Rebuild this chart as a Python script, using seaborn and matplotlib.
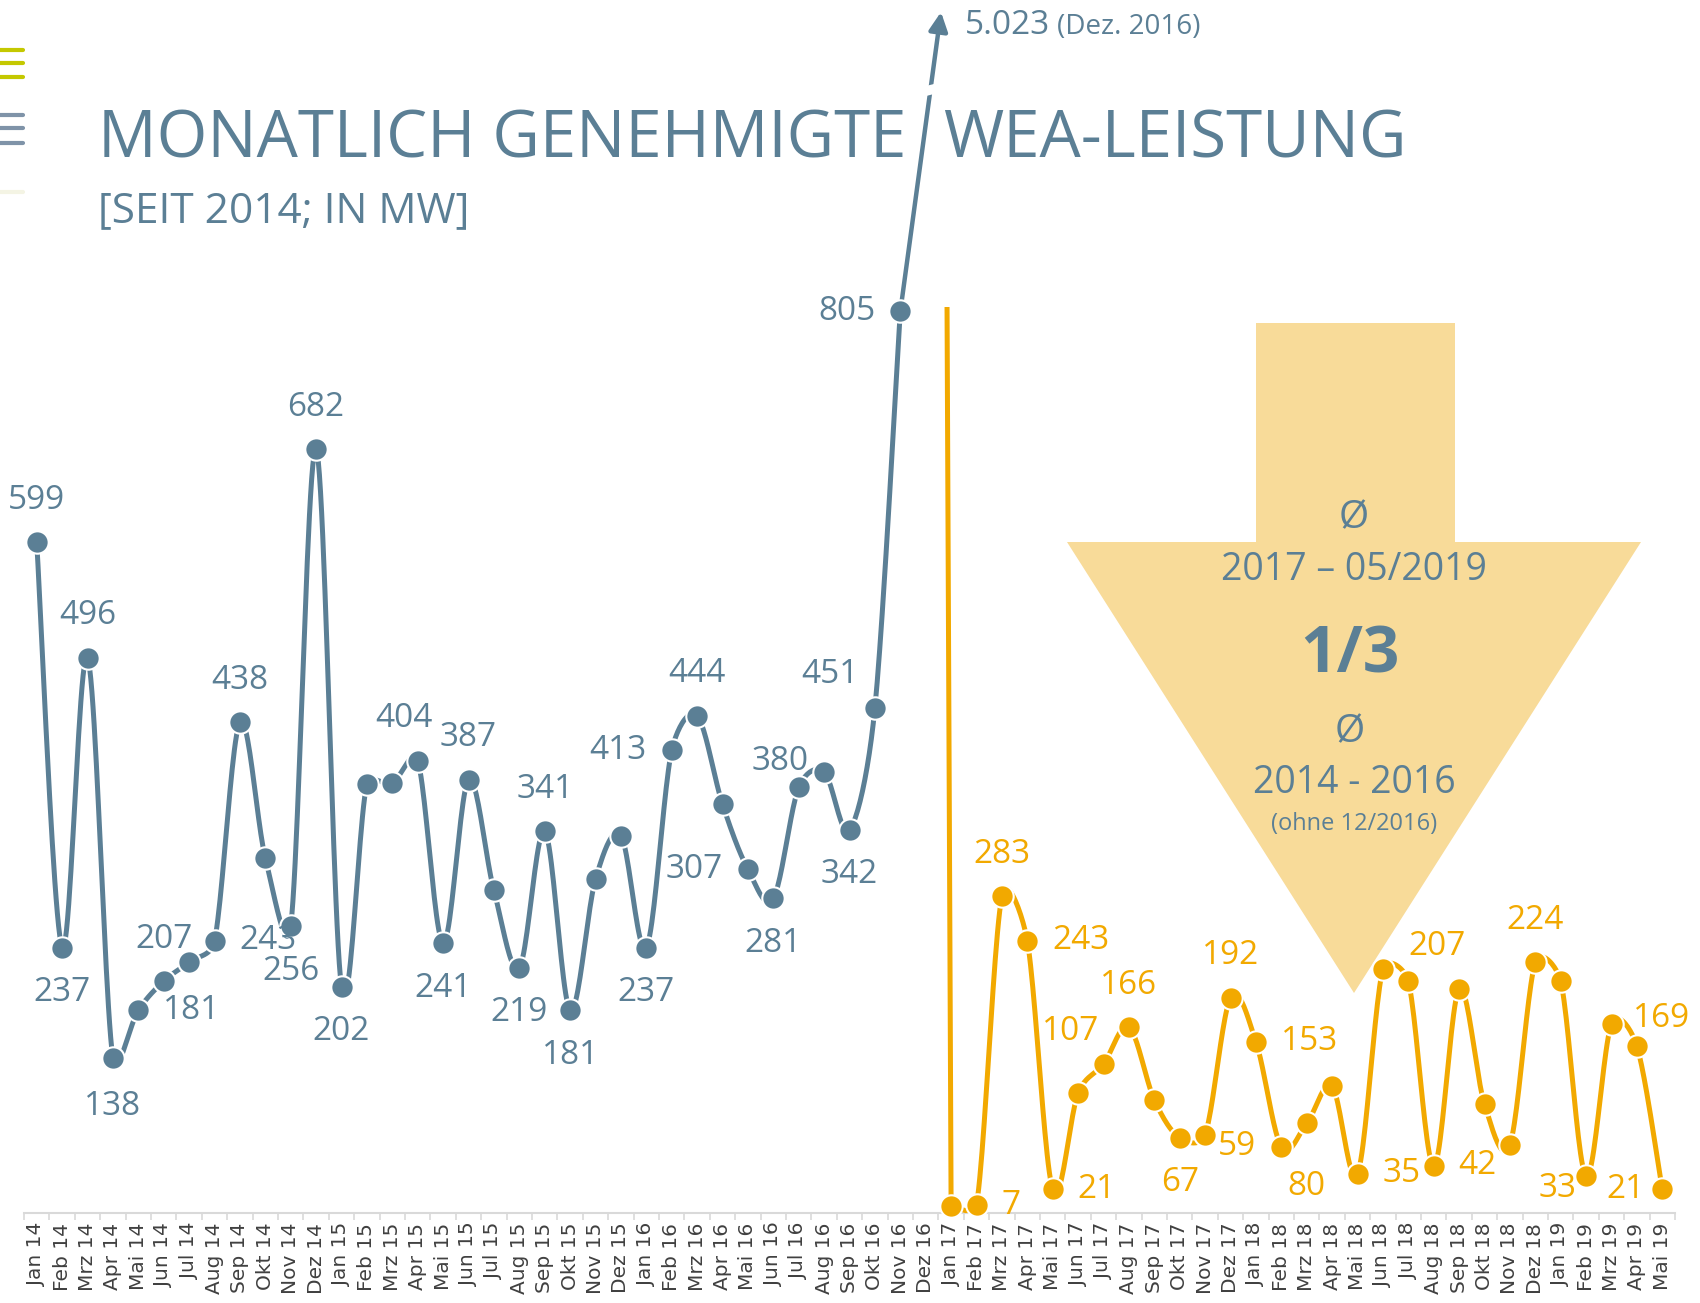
import numpy as np
import pandas as pd
import matplotlib.pyplot as plt
import seaborn as sns
from matplotlib.patches import Polygon
from matplotlib.lines import Line2D

# ---- data -------------------------------------------------------------
MONTHS = ['Jan', 'Feb', 'Mrz', 'Apr', 'Mai', 'Jun', 'Jul', 'Aug', 'Sep', 'Okt', 'Nov', 'Dez']
YEARS = ['14', '15', '16', '17', '18', '19']
month_labels = [f'{m} {y}' for y in YEARS for m in MONTHS][:65]   # Jan 14 .. Mai 19

# 2014-01 .. 2016-11
blue_values = [599, 237, 496, 138, 181, 207, 224, 243, 438, 317, 256, 682,
               202, 383, 384, 404, 241, 387, 288, 219, 341, 181, 298, 337,
               237, 413, 444, 365, 307, 281, 380, 394, 342, 451, 805]
dec16_value = 5023
# 2017-01 .. 2019-05
orange_values = [6, 7, 283, 243, 21, 107, 133, 166, 101, 67, 70, 192,
                 153, 59, 80, 113, 35, 218, 207, 42, 200, 97, 61, 224,
                 207, 33, 169, 149, 21]

BLUE = '#5B7F95'
ORANGE = '#F2A900'
ARROW_FILL = '#F8DB99'

# label placement (offset in pixels from the point)
ABOVE = ('center', 0, 42)
BELOW = ('center', 0, -45)
RIGHT = ('left', 25, 0)
LEFT = ('right', -25, 0)
blue_label_pos = {0: ABOVE, 1: BELOW, 2: ABOVE, 3: ('center', 0, -48), 4: RIGHT, 5: ABOVE,
                  7: RIGHT, 8: ABOVE, 10: BELOW, 11: ABOVE, 12: BELOW, 15: ('center', -14, 42),
                  16: BELOW, 17: ABOVE, 19: BELOW, 20: ABOVE, 21: BELOW, 24: BELOW, 25: LEFT,
                  26: ABOVE, 28: LEFT, 29: BELOW, 30: ('center', -19, 26), 32: BELOW,
                  33: ('center', -45, 33), 34: LEFT}
orange_label_pos = {37: RIGHT, 38: ABOVE, 39: RIGHT, 40: RIGHT, 41: ('center', -8, 62),
                    43: ABOVE, 45: BELOW, 47: ABOVE, 48: RIGHT, 49: LEFT, 50: ('center', 0, -63),
                    52: RIGHT, 54: ('center', 29, 35), 55: RIGHT, 59: ABOVE,
                    61: ('right', -10, -12), 62: ('left', 21, 5), 64: ('right', -18, 0)}

# pixel size of one month / one MW, used only to shape the smoothed curve
PX_X, PX_Y = 25.4, 1.12


def smooth(x, y, n=24):
    """Excel-like smoothed line: Bezier through the points, control arms
    limited to half of the neighbouring segment so peaks don't overshoot much."""
    p = np.column_stack([np.asarray(x, float) * PX_X, np.asarray(y, float) * PX_Y])
    m = len(p)
    tan = np.zeros_like(p)
    f_in = np.zeros(m)
    f_out = np.zeros(m)
    for i in range(m):
        a = p[max(i - 1, 0)]
        b = p[min(i + 1, m - 1)]
        tan[i] = b - a
        t_len = np.hypot(*tan[i]) or 1.0
        d_prev = np.hypot(*(p[i] - a))
        d_next = np.hypot(*(b - p[i]))
        f_in[i] = min(1 / 6, d_prev / (2 * t_len))
        f_out[i] = min(1 / 6, d_next / (2 * t_len))
    t = np.linspace(0, 1, n)[:, None]
    out = []
    for i in range(m - 1):
        p0, p3 = p[i], p[i + 1]
        c1 = p0 + tan[i] * f_out[i]
        c2 = p3 - tan[i + 1] * f_in[i + 1]
        seg = (1 - t) ** 3 * p0 + 3 * (1 - t) ** 2 * t * c1 + 3 * (1 - t) * t ** 2 * c2 + t ** 3 * p3
        out.append(seg if i == 0 else seg[1:])
    out = np.vstack(out)
    return pd.DataFrame({'x': out[:, 0] / PX_X, 'y': out[:, 1] / PX_Y})


blue_df = pd.DataFrame({'x': np.arange(len(blue_values)), 'y': blue_values})
orange_df = pd.DataFrame({'x': np.arange(36, 36 + len(orange_values)), 'y': orange_values})

sns.set_theme(style='white')
plt.rcParams['font.family'] = ['Open Sans', 'DejaVu Sans']

fig = plt.figure(figsize=(17, 13.03), dpi=100)
ax = fig.add_axes([24 / 1700, 1 - 1213 / 1303, 1651 / 1700, 906 / 1303])

# smoothed lines
sns.lineplot(data=smooth(blue_df.x, blue_df.y), x='x', y='y', sort=False, estimator=None,
             color=BLUE, lw=3.6, ax=ax, zorder=3)
sns.lineplot(data=smooth(orange_df.x, orange_df.y), x='x', y='y', sort=False, estimator=None,
             color=ORANGE, lw=3.6, ax=ax, zorder=3)
# steep drop from Dez 16 into Jan 17 (clipped at the top)
ax.plot([35, 36], [dec16_value, orange_values[0]], color=ORANGE, lw=3.6, zorder=3)

# markers
sns.scatterplot(data=blue_df, x='x', y='y', color=BLUE, s=260, edgecolor='white',
                linewidth=1.5, ax=ax, zorder=4, clip_on=False)
sns.scatterplot(data=orange_df, x='x', y='y', color=ORANGE, s=260, edgecolor='white',
                linewidth=1.5, ax=ax, zorder=4, clip_on=False)

# data labels
for df, pos, col in [(blue_df, blue_label_pos, BLUE), (orange_df, orange_label_pos, ORANGE)]:
    for xi, yi in zip(df.x, df.y):
        if xi in pos:
            ha, dx, dy = pos[xi]
            ax.annotate(str(yi), (xi, yi), xytext=(dx, dy), textcoords='offset pixels',
                        ha=ha, va='center', fontsize=24, color=col, zorder=5)

# arrow to the off-scale December 2016 value
ax.annotate('', xy=(941, 1303 - 12), xycoords='figure pixels',
            xytext=(34, blue_values[-1]), textcoords='data',
            arrowprops=dict(arrowstyle='-|>', color=BLUE, lw=3.2, mutation_scale=28,
                            shrinkA=0, shrinkB=0), zorder=3, annotation_clip=False)
fig.add_artist(Line2D([914 / 1700, 946 / 1700], [1 - 94 / 1303, 1 - 86 / 1303],
                      color='white', lw=7, solid_capstyle='butt', zorder=6))
fig.text(965 / 1700, 1 - 34 / 1303, '5.023', fontsize=24, color=BLUE, va='baseline')
fig.text(1057 / 1700, 1 - 34 / 1303, '(Dez. 2016)', fontsize=20, color=BLUE, va='baseline')

# big arrow in the background
arrow_px = [(1256, 323), (1455, 323), (1455, 542), (1641, 542), (1354, 993),
            (1067, 542), (1256, 542)]
ax.add_patch(Polygon([(x / 1700, 1 - y / 1303) for x, y in arrow_px], closed=True,
                     transform=fig.transFigure, facecolor=ARROW_FILL, edgecolor='none',
                     zorder=0.5, clip_on=False))
cx = 1354 / 1700
fig.text(cx, 1 - 518 / 1303, 'Ø', fontsize=28, color=BLUE, ha='center', va='center')
fig.text(cx, 1 - 570 / 1303, '2017 – 05/2019', fontsize=27, color=BLUE, ha='center', va='center')
fig.text(1350 / 1700, 1 - 656 / 1303, '1/3', fontsize=46, fontweight='bold', color=BLUE,
         ha='center', va='center')
fig.text(1350 / 1700, 1 - 732 / 1303, 'Ø', fontsize=28, color=BLUE, ha='center', va='center')
fig.text(cx, 1 - 783 / 1303, '2014 - 2016', fontsize=27, color=BLUE, ha='center', va='center')
fig.text(cx, 1 - 824 / 1303, '(ohne 12/2016)', fontsize=17, color=BLUE, ha='center', va='center')

# titles
fig.text(98 / 1700, 1 - 157 / 1303, 'MONATLICH GENEHMIGTE', fontsize=47, color=BLUE,
         va='baseline')
fig.text(943 / 1700, 1 - 157 / 1303, 'WEA-LEISTUNG', fontsize=47, color=BLUE,
         va='baseline')
fig.text(98 / 1700, 1 - 222 / 1303, '[SEIT 2014; IN MW]', fontsize=30.5, color=BLUE,
         va='baseline')

# corner decoration
for yy, col in [(50, '#C4C800'), (63, '#C4C800'), (77, '#C4C800'),
                (115, '#7F93A8'), (128, '#7F93A8'), (143, '#7F93A8'), (192, '#F4F4E4')]:
    fig.add_artist(Line2D([0, 23 / 1700], [1 - yy / 1303] * 2, color=col, lw=3))

# axes styling
ax.set_xlim(-0.5, 64.5)
ax.set_ylim(0, 809)
ax.set_xticks(range(65))
ax.set_xticklabels(month_labels, rotation=90, fontsize=14.5, color='#404040',
                   family='DejaVu Sans')
ax.set_xticks(np.arange(-0.5, 65, 1), minor=True)
ax.tick_params(axis='x', which='major', length=0, pad=7)
ax.tick_params(axis='x', which='minor', bottom=True, length=5, width=1.2,
               color='#D9D9D9', direction='out')
ax.set_yticks([])
ax.set_xlabel('')
ax.set_ylabel('')
for side in ['left', 'right', 'top']:
    ax.spines[side].set_visible(False)
ax.spines['bottom'].set_color('#D9D9D9')
ax.spines['bottom'].set_linewidth(1.5)
ax.patch.set_alpha(0)

fig.savefig('out.png', dpi=100, facecolor='white')
